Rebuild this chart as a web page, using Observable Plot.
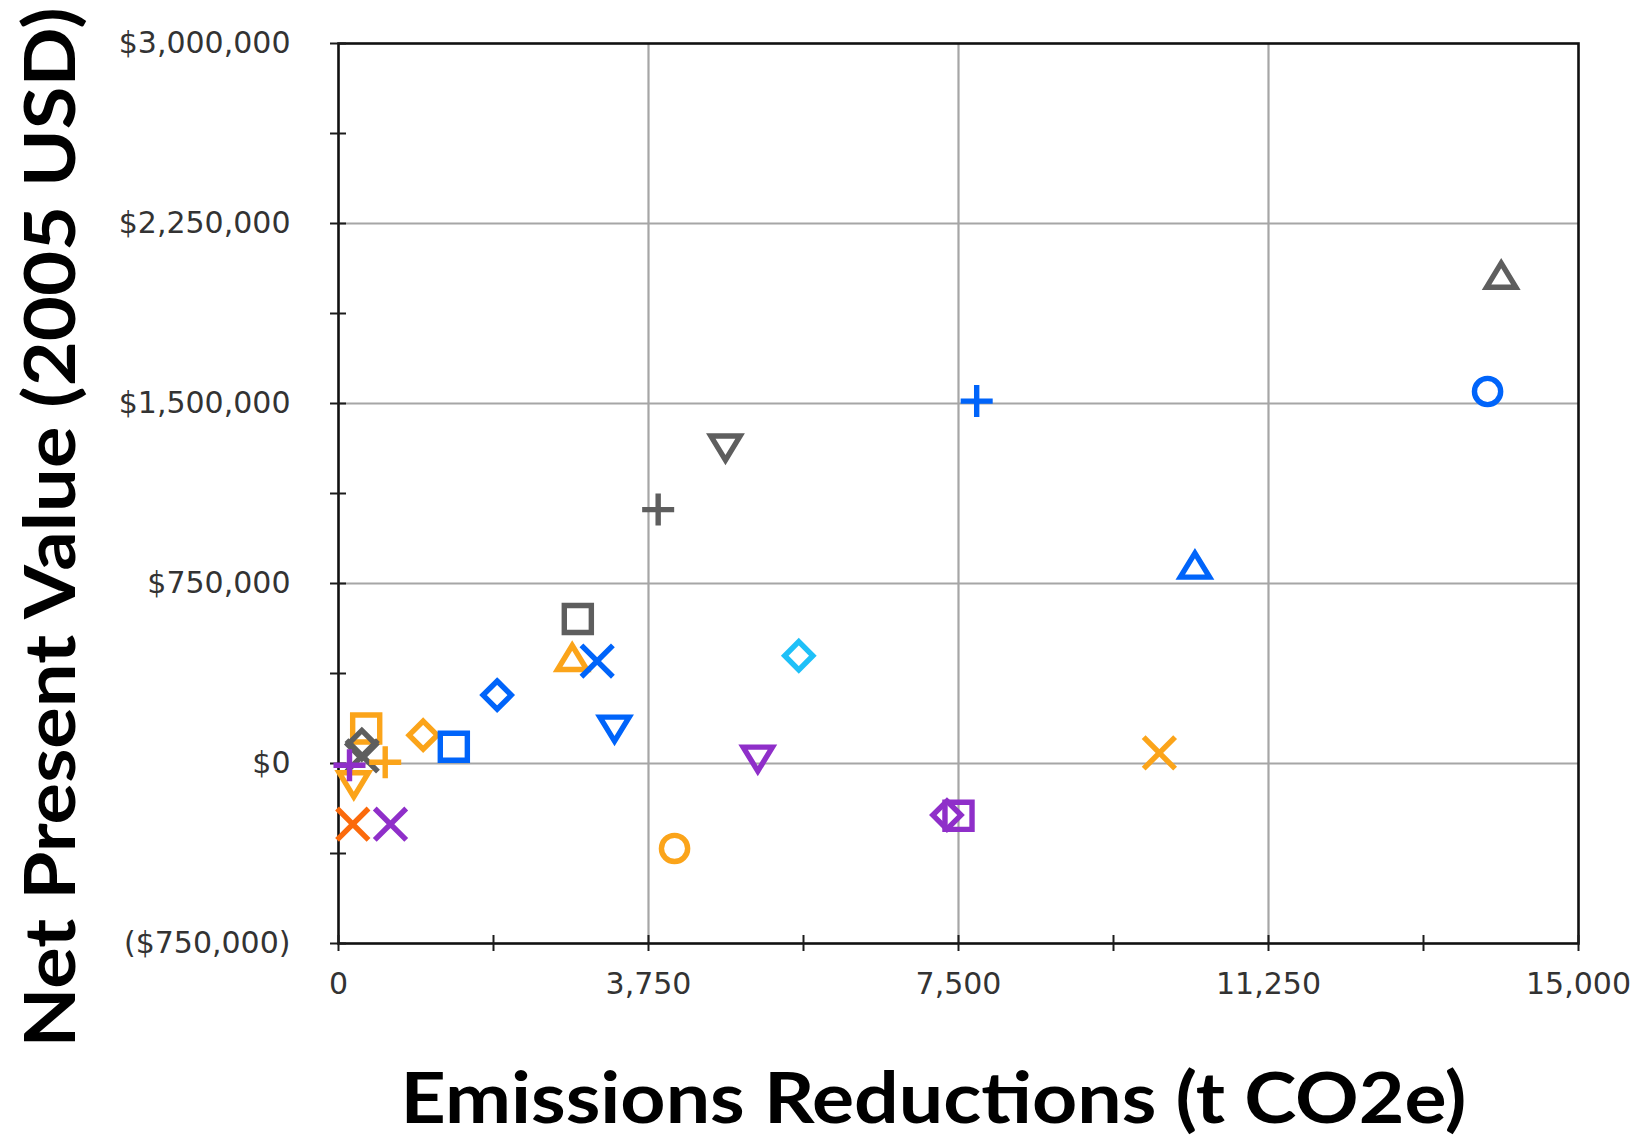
<!DOCTYPE html>
<html>
<head>
<meta charset="utf-8">
<script src="https://cdn.jsdelivr.net/npm/d3@7"></script>
<script src="https://cdn.jsdelivr.net/npm/@observablehq/plot@0.6"></script>
<style>
  html, body { margin: 0; padding: 0; background: #fff; }
  #chart svg { display: block; }
</style>
</head>
<body>
<div id="chart"></div>
<script>
// ---- Data ----
const emissions = [14065, 13900, 7720, 4681, 3867, 10360, 2895, 2827, 3129, 5568, 1919, 3339, 1024, 1395, 5072, 9930, 7500, 7360, 4065, 335, 287, 282, 565, 185, 133, 173, 629];
const npv = [2018000, 1550000, 1510000, 1331000, 1058000, 810000, 602000, 425000, 427000, 449000, 285000, 160000, 118000, 70000, 35000, 44000, -218000, -215000, -354000, 146000, 32000, 79000, 5000, -72000, -7000, -253000, -253000];
const markerShape = ["Up triangle", "Open circle", "Plus sign", "Down triangle", "Plus sign", "Up triangle", "Open square", "Up triangle", "X mark", "Open diamond", "Open diamond", "Down triangle", "Open diamond", "Open square", "Down triangle", "X mark", "Open square", "Open diamond", "Open circle", "Open square", "X mark", "Open diamond", "Plus sign", "Down triangle", "Plus sign", "X mark", "X mark"];
const markerGroup = ["Gray", "Blue", "Blue", "Gray", "Gray", "Blue", "Gray", "Orange", "Blue", "Cyan", "Blue", "Blue", "Orange", "Blue", "Purple", "Orange", "Purple", "Purple", "Orange", "Orange", "Gray", "Gray", "Orange", "Orange", "Purple", "Vermilion", "Purple"];

const groupNames = ["Blue", "Gray", "Orange", "Purple", "Cyan", "Vermilion"];
const groupColors = ["#0064fa", "#5e5e5e", "#fba41a", "#8f2fc9", "#1ec0f8", "#fb6a0c"];

const xTicks = [0, 3750, 7500, 11250, 15000];
const xTickLabels = ["0", "3,750", "7,500", "11,250", "15,000"];
const xMinorTicks = [1875, 5625, 9375, 13125];
const yTicks = [-750000, 0, 750000, 1500000, 2250000, 3000000];
const yTickLabels = ["($750,000)", "$0", "$750,000", "$1,500,000", "$2,250,000", "$3,000,000"];
const yMinorTicks = [-375000, 375000, 1125000, 1875000, 2625000];

const xTitle = "Emissions Reductions (t CO2e)";
const yTitle = "Net Present Value (2005 USD)";

// ---- Build table ----
const points = emissions.map((x, i) => ({x, y: npv[i], shape: markerShape[i], group: markerGroup[i]}));

// ---- Custom open symbols ----
const unit = (size) => Math.sqrt(size / Math.PI);
const shapeNames = ["Open circle", "Open square", "Open diamond", "Up triangle", "Down triangle", "Plus sign", "X mark"];
const shapeSymbols = [
  {draw(c, size) { const r = 0.95 * unit(size); c.moveTo(r, 0); c.arc(0, 0, r, 0, 2 * Math.PI); c.closePath(); }},
  {draw(c, size) { const h = 0.98 * unit(size); c.moveTo(-h, -h); c.lineTo(h, -h); c.lineTo(h, h); c.lineTo(-h, h); c.closePath(); }},
  {draw(c, size) { const h = 1.02 * unit(size); c.moveTo(0, -h); c.lineTo(h, 0); c.lineTo(0, h); c.lineTo(-h, 0); c.closePath(); }},
  {draw(c, size) { const s = unit(size); c.moveTo(0, -1.16 * s); c.lineTo(1.06 * s, 0.58 * s); c.lineTo(-1.06 * s, 0.58 * s); c.closePath(); }},
  {draw(c, size) { const s = unit(size); c.moveTo(0, 1.16 * s); c.lineTo(1.06 * s, -0.58 * s); c.lineTo(-1.06 * s, -0.58 * s); c.closePath(); }},
  {draw(c, size) { const l = 1.16 * unit(size); c.moveTo(-l, 0); c.lineTo(l, 0); c.moveTo(0, -l); c.lineTo(0, l); }},
  {draw(c, size) { const l = 1.14 * unit(size); c.moveTo(-l, -l); c.lineTo(l, l); c.moveTo(l, -l); c.lineTo(-l, l); }}
];

const fmtX = d => { const i = xTicks.indexOf(d); return i >= 0 ? xTickLabels[i] : ""; };
const fmtY = d => { const i = yTicks.indexOf(d); return i >= 0 ? yTickLabels[i] : ""; };

const chart = Plot.plot({
  width: 1639,
  height: 1138,
  marginLeft: 338,
  marginRight: 61,
  marginTop: 43,
  marginBottom: 195,
  style: {fontFamily: "'DejaVu Sans', sans-serif", fontSize: "30px", color: "#1c1c1c", background: "#ffffff"},
  x: {domain: [0, 15000], axis: null},
  y: {domain: [-750000, 3000000], axis: null},
  symbol: {domain: shapeNames, range: shapeSymbols, legend: false},
  color: {domain: groupNames, range: groupColors, legend: false},
  marks: [
    Plot.gridX({ticks: xTicks.slice(1, -1), stroke: "#a6a6a6", strokeOpacity: 1, strokeWidth: 2.2}),
    Plot.gridY({ticks: yTicks.slice(1, -1), stroke: "#a6a6a6", strokeOpacity: 1, strokeWidth: 2.2}),
    Plot.frame({stroke: "#111", strokeWidth: 2.6}),
    Plot.axisY({ticks: [...yTicks, ...yMinorTicks], tickSize: 16, dx: 8, tickPadding: 40, tickFormat: fmtY, strokeWidth: 2, fill: "#333", label: null}),
    Plot.axisX({ticks: [...xTicks, ...xMinorTicks], tickSize: 16, dy: -8, tickPadding: 21, tickFormat: fmtX, strokeWidth: 2, fill: "#333", label: null}),
    Plot.dot(points, {x: "x", y: "y", symbol: "shape", stroke: "group", fill: "none", r: 13.8, strokeWidth: 5.4}),
    Plot.text([xTitle], {text: d => d, frameAnchor: "bottom", textAnchor: "middle", dx: -25, dy: 179, lineAnchor: "bottom", fontFamily: "Lato, 'Open Sans', sans-serif", fontWeight: 700, fontSize: 70, fill: "#000"}),
    Plot.text([yTitle], {text: d => d, frameAnchor: "left", textAnchor: "middle", rotate: -90, dx: -264, dy: 34, lineAnchor: "bottom", fontFamily: "Lato, 'Open Sans', sans-serif", fontWeight: 700, fontSize: 70, fill: "#000"})
  ]
});

document.getElementById("chart").appendChild(chart);

// Stretch the two titles to the lengths they have in the reference
chart.querySelectorAll("text").forEach(t => {
  if (t.textContent === xTitle) { t.setAttribute("textLength", 1066); t.setAttribute("lengthAdjust", "spacingAndGlyphs"); }
  if (t.textContent === yTitle) { t.setAttribute("textLength", 1040); t.setAttribute("lengthAdjust", "spacingAndGlyphs"); }
});
</script>
</body>
</html>
